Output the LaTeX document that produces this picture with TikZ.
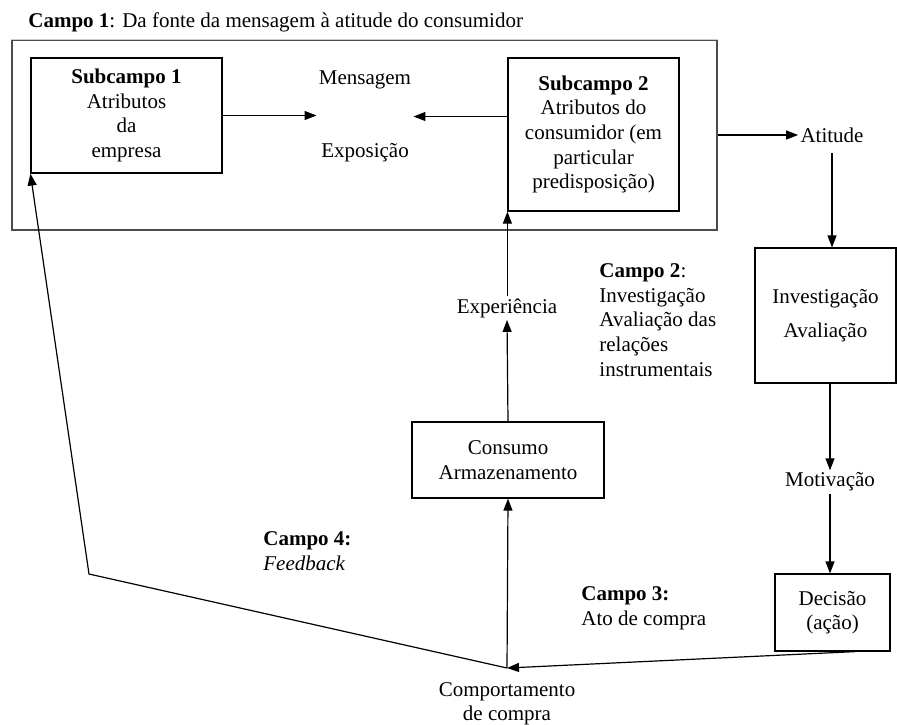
\documentclass[tikz,border=0pt]{standalone}
\usepackage{fontspec}
\setmainfont{Liberation Serif}
\usetikzlibrary{arrows.meta}

\tikzset{
    box/.style={draw, line width=0.6pt, align=center, inner sep=0pt},
    plain/.style={align=center, inner sep=1pt},
    link/.style={-{Triangle[length=6pt,width=4.5pt]}, line width=0.6pt}
}

\begin{document}
\begin{tikzpicture}[x=0.5pt, y=-0.5pt, font=\fontsize{10.5}{12.3}\selectfont]
    \useasboundingbox (0,0) rectangle (897,724);

    % Draw the title of the first field
    \node[anchor=base west, inner sep=0pt] (Title) at (28,27) {\textbf{Campo 1}: Da fonte da mensagem à atitude do consumidor};

    % Draw the frame of Campo 1 and its two subfields
    \node[box, draw=black!70, minimum width=352.5pt, minimum height=95pt] (Campo1) at (364.5,135) {};
    \draw[black!20, line width=0.6pt] (Campo1.north west) -- (Campo1.north east);
    \node[box, minimum width=95.5pt, minimum height=57.5pt] (Sub1) at (126.5,115.5) {\textbf{Subcampo 1}\\Atributos\\da\\empresa};
    \node[box, minimum width=85.5pt, minimum height=76.5pt] (Sub2) at (593.5,134.5) {\textbf{Subcampo 2}\\Atributos do\\consumidor (em\\particular\\predisposição)};
    \node[plain] (Msg) at (365,116.5) {Mensagem\\[24pt]Exposição};

    % Draw the decision path on the right
    \node[plain] (Atitude) at (832,135) {Atitude};
    \node[box, minimum width=70.5pt, minimum height=67.5pt] (Inv) at (825.5,315.5) {Investigação\\[4.7pt]Avaliação};
    \node[plain] (Motivacao) at (830,482) {Motivação};
    \node[box, minimum width=57.5pt, minimum height=38.5pt] (Decisao) at (832.5,612.5) {Decisão\\(ação)};

    % Draw the purchase and consumption path
    \coordinate (Compra) at (507,668);
    \node[plain, anchor=north] (Comport) at (507,680) {Comportamento\\de compra};
    \node[box, minimum width=96pt, minimum height=38pt] (Consumo) at (508,460) {Consumo\\Armazenamento};
    \node[plain] (Experiencia) at (507,308) {Experiência};
    \coordinate (Turn) at (89,574);

    % Label the other fields
    \node[plain, align=left, anchor=west] (Campo2) at (597,320) {\textbf{Campo 2}:\\Investigação\\Avaliação das\\relações\\instrumentais};
    \node[plain, align=left, anchor=west] (Campo3) at (579,608) {\textbf{Campo 3:}\\Ato de compra};
    \node[plain, align=left, anchor=west] (Campo4) at (261,551) {\textbf{Campo 4:}\\\textit{Feedback}};

    % Connect the nodes
    \draw[link] (Sub1.east) -- (Sub1.east -| Msg.west);
    \draw[link] (Sub2.west |- Msg.east) -- (Msg.east);
    \draw[link] (Campo1.east) -- (Atitude.west);
    \draw[link] ([yshift=-4pt]Atitude.south) -- (Atitude.south |- Inv.north);
    \draw[link] (Inv.south -| Motivacao.north) -- (Motivacao.north);
    \draw[link] (Motivacao.south) -- (Motivacao.south |- Decisao.north);
    \draw[link] (Decisao.-60) -- (Compra);
    \draw[link] (Compra) -- (Consumo.south);
    \draw[link] (Consumo.north) -- (Experiencia.south);
    \draw[link] (Sub2.south west |- Experiencia.north) -- (Sub2.south west);
    \draw[link] (Compra) -- (Turn) -- (Sub1.south west);

\end{tikzpicture}
\end{document}
